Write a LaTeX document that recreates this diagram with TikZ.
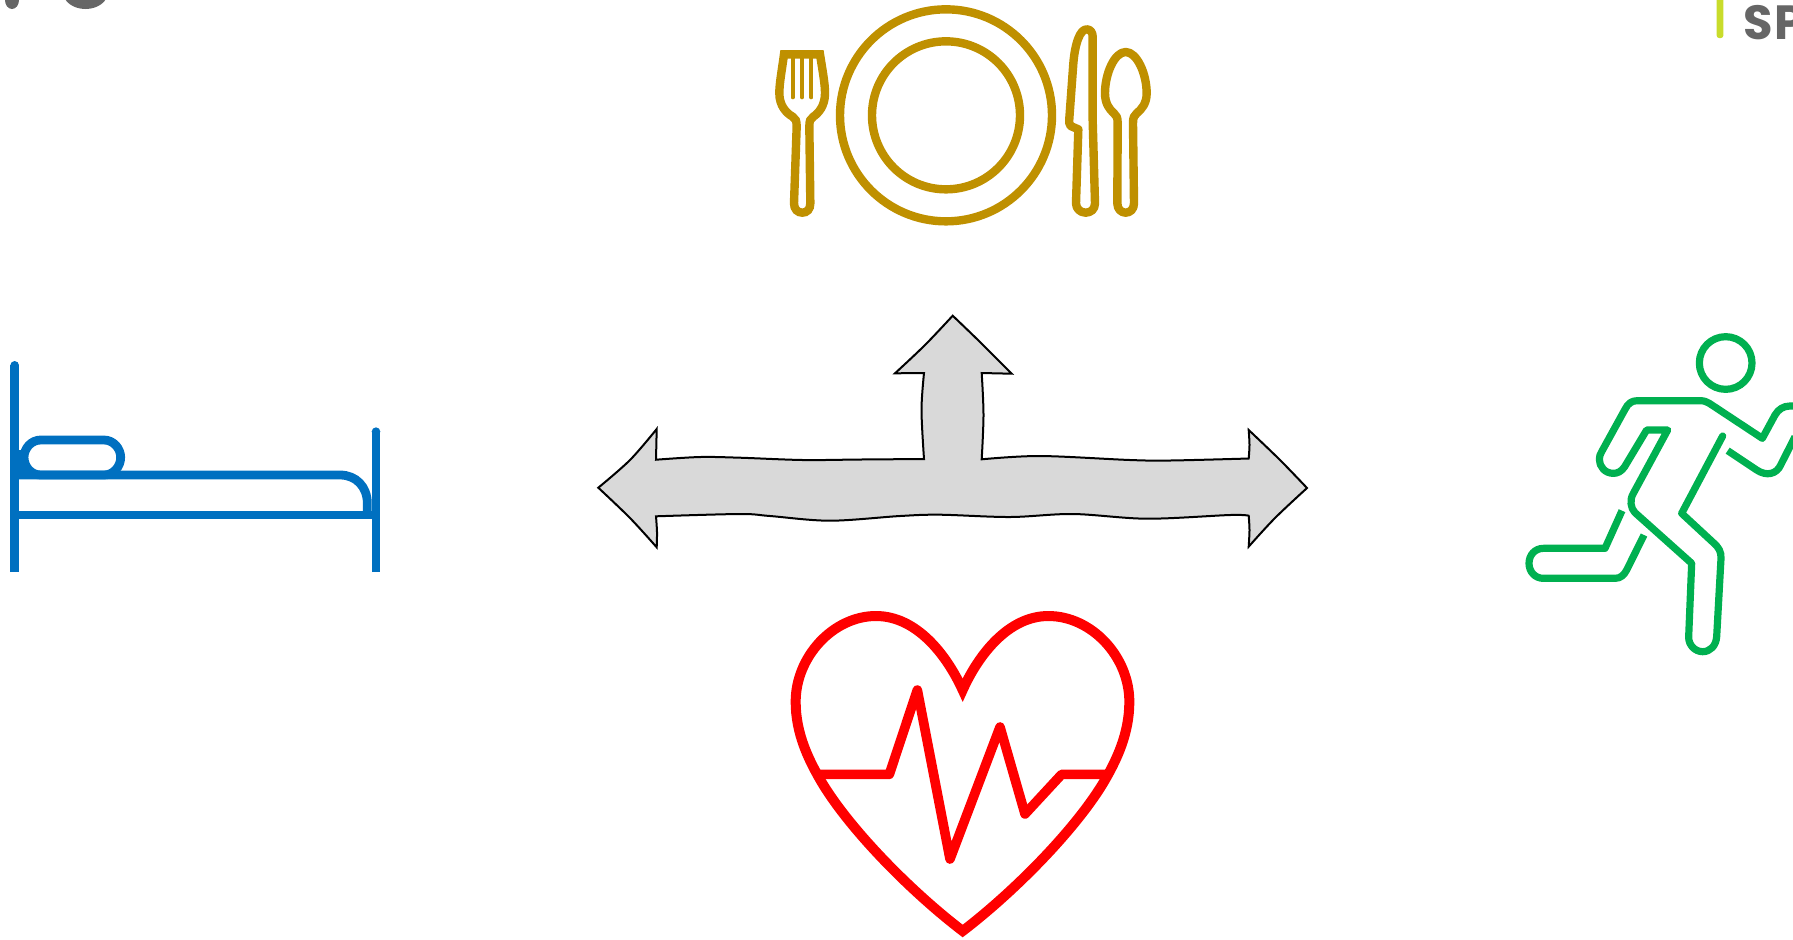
\documentclass[tikz,border=0pt]{standalone}
\usepackage{fontspec}
\setmainfont{Poppins}
\definecolor{gold}{HTML}{BF9000}
\definecolor{bedblue}{HTML}{0070C0}
\definecolor{rungreen}{HTML}{00B050}
\definecolor{logolime}{HTML}{C9DC2B}
\definecolor{logogray}{HTML}{666666}
\definecolor{arrowgray}{HTML}{D9D9D9}
\tikzset{
  zoomed/.style={scale=1/3},
  goldline/.style={draw=gold,line width=4.2pt,line join=round},
  goldtine/.style={draw=gold,line width=2pt,line cap=round},
  bedline/.style={draw=bedblue,line width=4.4pt},
  runline/.style={draw=rungreen,line width=3.6pt,line join=round},
  heartline/.style={draw=red,line width=5pt,miter limit=10},
  ecgline/.style={draw=red,line width=4.8pt,line join=round},
  bigarrow/.style={draw=black,fill=arrowgray,line width=1pt,line join=miter}
}
\begin{document}
\begin{tikzpicture}[x=0.5pt,y=-0.5pt]
\clip (0,0) rectangle (1793,939);
\useasboundingbox (0,0) rectangle (1793,939);

% cutlery and plate
\begin{scope}[shift={(760,0)},zoomed]
  \draw[goldline] (558,346) circle[radius=318];
  \draw[goldline] (558,346) circle[radius=222];
  % fork
  \draw[goldline,line join=miter] (72,163) -- (180,163) .. controls (188,215) and (195,250) .. (195,280)
    .. controls (195,318) and (175,340) .. (160,350) .. controls (151,356) and (148,362) .. (148,380)
    -- (151,610) .. controls (151,628) and (141,638) .. (127,638) .. controls (113,638) and (102,628) .. (102,610)
    -- (110,380) .. controls (110,362) and (107,356) .. (98,350) .. controls (80,340) and (58,318) .. (58,280)
    .. controls (58,250) and (65,215) .. (72,163) -- cycle;
  \draw[goldtine] (98,170) -- (98,292);
  \draw[goldtine] (126,170) -- (126,292);
  \draw[goldtine] (154,170) -- (154,292);
  % knife
  \draw[goldline] (998,110) -- (998,360) -- (1005,610) .. controls (1005,628) and (992,638) .. (977,638)
    .. controls (960,638) and (948,625) .. (948,610) -- (955,388) -- (932,378) .. controls (928,374) and (927,368) .. (928,355)
    -- (940,190) .. controls (945,130) and (960,88) .. (980,88) .. controls (992,88) and (998,98) .. (998,110) -- cycle;
  % spoon
  \draw[goldline] (1097,156) .. controls (1130,156) and (1160,220) .. (1160,280)
    .. controls (1160,310) and (1145,328) .. (1130,340) .. controls (1122,346) and (1119,353) .. (1119,370)
    -- (1122,610) .. controls (1122,628) and (1110,638) .. (1097,638) .. controls (1084,638) and (1072,628) .. (1072,610)
    -- (1073,370) .. controls (1073,353) and (1070,346) .. (1062,340) .. controls (1048,328) and (1035,310) .. (1035,280)
    .. controls (1035,220) and (1064,156) .. (1097,156) -- cycle;
\end{scope}

% bed
\begin{scope}[shift={(0,350)},zoomed]
  \fill[bedblue] (44,375) -- (44,300) -- (72,300) -- (85,375) -- cycle;
  \draw[bedline] (44,666) -- (44,46);
  \fill[bedblue] (44,46) circle[radius=13];
  \draw[bedline] (1128,666) -- (1128,245);
  \fill[bedblue] (1128,245) circle[radius=13];
  \draw[bedline] (44,495) -- (1128,495);
  \draw[bedline] (44,375) -- (1020,375) .. controls (1068,375) and (1102,410) .. (1102,460) -- (1102,495);
  \draw[bedline] (122,270) -- (312,270) .. controls (340,270) and (362,295) .. (362,322)
    .. controls (362,350) and (340,375) .. (312,375) -- (122,375)
    .. controls (94,375) and (72,350) .. (72,322) .. controls (72,295) and (94,270) .. (122,270) -- cycle;
\end{scope}

% runner
\begin{scope}[shift={(1500,320)},zoomed]
  \draw[runline] (677,129) circle[radius=79];
  \draw[runline,line cap=round] (668,348) -- (545,580) -- (640,668) .. controls (656,682) and (664,695) .. (663,715)
    -- (650,950) .. controls (648,978) and (630,995) .. (608,995) .. controls (585,995) and (565,975) .. (566,950)
    -- (575,730) -- (405,578) .. controls (392,565) and (388,540) .. (400,520) -- (503,330) -- (440,330)
    -- (374,440) .. controls (364,455) and (352,460) .. (340,460) .. controls (315,460) and (298,440) .. (298,418)
    .. controls (298,410) and (300,403) .. (305,395)
    -- (375,268) .. controls (384,250) and (395,242) .. (412,242) -- (600,242) .. controls (612,242) and (620,245) .. (628,250)
    -- (787,355) -- (825,285) .. controls (835,268) and (850,258) .. (870,258) -- (900,258);
  \draw[runline] (683,392) -- (770,450) .. controls (800,470) and (830,462) .. (842,435) -- (885,350);
  \draw[runline] (366,572) -- (315,685) -- (130,685) .. controls (105,685) and (87,705) .. (87,730)
    .. controls (87,755) and (105,775) .. (130,775)
    -- (345,775) .. controls (362,775) and (372,765) .. (380,750) -- (432,645);
\end{scope}

% heart
\begin{scope}[shift={(770,600)},zoomed]
  \draw[heartline] (578,270) .. controls (530,165) and (440,48) .. (318,48)
    .. controls (190,48) and (77,170) .. (77,305) .. controls (77,400) and (115,480) .. (160,555)
    .. controls (250,700) and (430,880) .. (578,993) .. controls (726,880) and (906,700) .. (996,555)
    .. controls (1041,480) and (1078,400) .. (1078,305) .. controls (1078,170) and (965,48) .. (835,48)
    .. controls (715,48) and (625,165) .. (578,270) -- cycle;
  \draw[ecgline] (150,523) -- (358,523) -- (442,270) -- (540,777) -- (690,381) -- (765,642) -- (875,523) -- (1005,523);
\end{scope}

% central three-way arrow
\path[bigarrow]
  plot[smooth,tension=0.55] coordinates {(598.3,487.7) (630,460) (656.7,429)}
  -- (656,459.7)
  -- plot[smooth,tension=0.55] coordinates {(656,459.7) (700,457) (740,457.7) (803,460) (860,459.5) (924,459)}
  -- plot[smooth,tension=0.55] coordinates {(924,459) (921.5,410) (924,373)}
  -- (895,373.3)
  -- plot[smooth,tension=0.55] coordinates {(895,373.3) (925,345) (952.7,315.7)}
  -- plot[smooth,tension=0.55] coordinates {(952.7,315.7) (980,342) (1011.7,373.7)}
  -- (981.7,373)
  -- plot[smooth,tension=0.55] coordinates {(981.7,373) (983.5,415) (981.7,459.3)}
  -- plot[smooth,tension=0.55] coordinates {(981.7,459.3) (1040,456) (1130,460) (1170,460.5) (1248.7,458.5)}
  -- plot[smooth,tension=0.55] coordinates {(1248.7,458.5) (1249.5,445) (1248.7,430)}
  -- plot[smooth,tension=0.55] coordinates {(1248.7,430) (1280,460) (1307,488)}
  -- plot[smooth,tension=0.55] coordinates {(1307,488) (1275,518) (1248.7,546.6)}
  -- plot[smooth,tension=0.55] coordinates {(1248.7,546.6) (1249.5,530) (1248.7,515.7)}
  -- plot[smooth,tension=0.55] coordinates {(1248.7,515.7) (1230,515) (1147,518.7) (1073,514) (1010,517) (940,514.7) (900,516) (830,520.7) (770,516) (740,514) (656,516.3)}
  -- plot[smooth,tension=0.55] coordinates {(656,516.3) (657,532) (656.7,547.3)}
  -- plot[smooth,tension=0.55] coordinates {(656.7,547.3) (630,518) (598.3,487.7)}
  -- cycle;

% cropped logo fragments
\fill[logolime,rounded corners=1.2pt] (1716.7,-10) rectangle (1723.3,38);
\node[inner sep=0pt,anchor=base west,text=logogray,font=\fontsize{24}{24}\selectfont\bfseries\addfontfeature{LetterSpace=3}] (logo) at (1743,39) {SP};
\fill[logogray] (12,0) ellipse[x radius=7,y radius=9];
\fill[logogray] (85.5,-8) ellipse[x radius=22.5,y radius=17];
\end{tikzpicture}
\end{document}
